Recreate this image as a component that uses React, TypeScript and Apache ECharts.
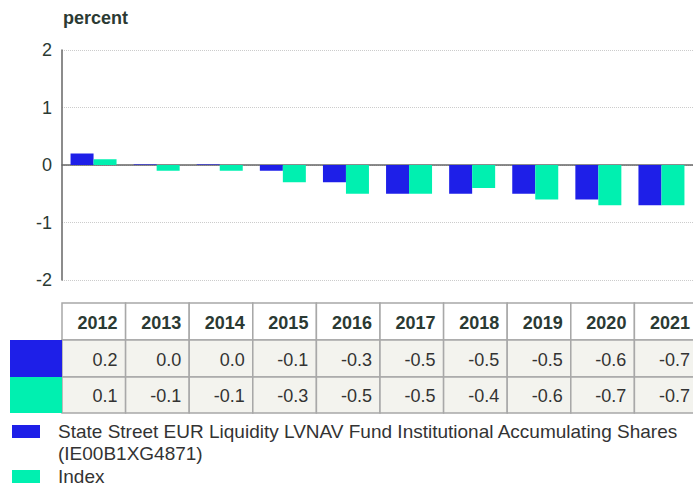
import React, { useEffect, useRef } from "react";
import * as echarts from "echarts";

const categories = ["2012", "2013", "2014", "2015", "2016", "2017", "2018", "2019", "2020", "2021"];
const fundValues = [0.2, 0.01, 0.01, -0.1, -0.3, -0.5, -0.5, -0.5, -0.6, -0.7];
const indexValues = [0.1, -0.1, -0.1, -0.3, -0.5, -0.5, -0.4, -0.6, -0.7, -0.7];
const seriesNames = ["State Street EUR Liquidity LVNAV Fund Institutional Accumulating Shares", "Index"];
const legendLines = [["State Street EUR Liquidity LVNAV Fund Institutional Accumulating Shares", "(IE00B1XG4871)"], ["Index"]];
const colors = ["#1e1fe8", "#00f0b0"];
const yTicks = { min: -2, max: 2, interval: 1 };

const FONT = "Liberation Sans, Arial, sans-serif";
const TEXT = "#2b3a33";

export default function App() {
  const ref = useRef<HTMLDivElement>(null);
  useEffect(() => {
    if (!ref.current) return;
    const chart = echarts.init(ref.current, null, { renderer: "svg" });
    const gridLeft = 62;
    const gridWidth = 636;
    const cw = gridWidth / categories.length;
    const headerTop = 303;
    const rowH = [37, 37, 36];
    const graphic: any[] = [];
    const rows = [fundValues, indexValues];
    categories.forEach((c, i) => {
      const x = gridLeft + i * cw;
      graphic.push({
        type: "rect",
        shape: { x, y: headerTop, width: cw, height: rowH[0] },
        style: { fill: "#ffffff", stroke: "#a8a8a8", lineWidth: 1.5 },
      });
      graphic.push({
        type: "text",
        x: x + cw - 8,
        y: headerTop + rowH[0] / 2 + 1,
        style: { text: c, fill: TEXT, font: `bold 18px ${FONT}`, align: "right", verticalAlign: "middle" },
      });
      rows.forEach((r, ri) => {
        const y = headerTop + rowH[0] + (ri === 0 ? 0 : rowH[1]);
        graphic.push({
          type: "rect",
          shape: { x, y, width: cw, height: rowH[ri + 1] },
          style: { fill: "#f3f3ee", stroke: "#a8a8a8", lineWidth: 1.5 },
        });
        graphic.push({
          type: "text",
          x: x + cw - 8,
          y: y + rowH[ri + 1] / 2 + 1,
          style: { text: r[i].toFixed(1), fill: "#333333", font: `18px ${FONT}`, align: "right", verticalAlign: "middle" },
        });
      });
    });
    rows.forEach((_, ri) => {
      const y = headerTop + rowH[0] + (ri === 0 ? 0 : rowH[1]);
      graphic.push({
        type: "rect",
        shape: { x: 10, y, width: gridLeft - 10, height: rowH[ri + 1] },
        style: { fill: colors[ri] },
      });
    });
    const legendTops = [425, 470];
    legendLines.forEach((lines, li) => {
      graphic.push({
        type: "rect",
        shape: { x: 12, y: legendTops[li], width: 28, height: 13 },
        style: { fill: colors[li] },
      });
      lines.forEach((t, k) => {
        graphic.push({
          type: "text",
          x: 58,
          y: legendTops[li] + 6 + k * 22,
          style: { text: t, fill: "#333333", font: `19px ${FONT}`, align: "left", verticalAlign: "middle" },
        });
      });
    });
    graphic.push({
      type: "text",
      x: 63,
      y: 18,
      style: { text: "percent", fill: TEXT, font: `bold 18px ${FONT}`, verticalAlign: "middle" },
    });

    chart.setOption({
      animation: false,
      grid: { left: gridLeft, width: gridWidth, top: 50, height: 230 },
      xAxis: {
        type: "category",
        data: categories,
        axisLine: { onZero: true, lineStyle: { color: "#666666", width: 1.5 } },
        axisTick: { show: false },
        axisLabel: { show: false },
      },
      yAxis: {
        type: "value",
        min: yTicks.min,
        max: yTicks.max,
        interval: yTicks.interval,
        axisLine: { show: true, lineStyle: { color: "#666666", width: 1.5 } },
        axisTick: { show: false },
        axisLabel: { color: TEXT, fontSize: 18, fontFamily: FONT, margin: 10 },
        splitLine: { lineStyle: { color: "#cccccc", type: "dotted" } },
      },
      series: [
        { name: seriesNames[0], type: "bar", data: fundValues, barWidth: 23, barGap: "0%", itemStyle: { color: colors[0] } },
        { name: seriesNames[1], type: "bar", data: indexValues, barWidth: 23, barGap: "0%", itemStyle: { color: colors[1] } },
      ],
      graphic,
    });
    return () => chart.dispose();
  }, []);
  return <div ref={ref} style={{ width: 693, height: 483, position: "absolute", left: 0, top: 0 }} />;
}
